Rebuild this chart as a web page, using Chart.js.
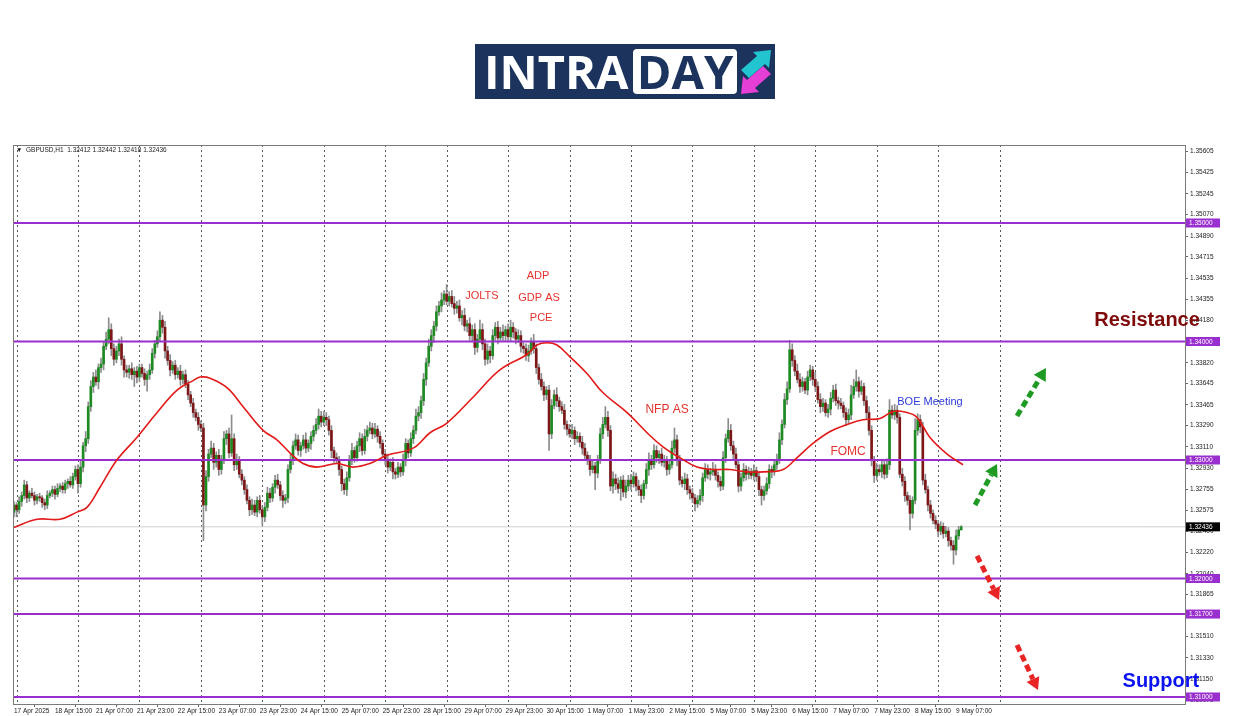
<!DOCTYPE html>
<html>
<head>
<meta charset="utf-8">
<script src="https://cdn.jsdelivr.net/npm/chart.js@4.4.1/dist/chart.umd.min.js"></script>
<style>
  html, body { margin: 0; padding: 0; background: #fff; }
  #wrap { position: relative; width: 1250px; height: 716px; overflow: hidden; }
  #chart { position: absolute; left: 0; top: 0; }
  #logo { position: absolute; left: 475px; top: 44px; width: 300px; height: 55px; background: #1c335e; }
  #logo .intra { position: absolute; left: 9px; top: 0px; font: 700 47px "Open Sans", sans-serif; color: #fff; line-height: 55px; letter-spacing: 0px; }
  #logo .day { position: absolute; left: 158px; top: 5px; width: 104px; height: 45px; background: #fff; border-radius: 4px;
               font: 700 47px "Open Sans", sans-serif; color: #1c335e; line-height: 45px; text-align: center; }
  #logo svg { position: absolute; left: 264px; top: 4px; }
</style>
</head>
<body>
<div id="wrap">
  <canvas id="chart" width="1250" height="716"></canvas>
  <div id="logo">
    <span class="intra">INTRA</span>
    <span class="day">DAY</span>
    <svg width="34" height="48" viewBox="0 0 34 48">
      <polygon points="2,22 18,8 14,4 32,2 30,20 26,16 10,30" fill="#22c4cf"/>
      <polygon points="32,26 16,40 20,44 2,46 4,28 8,32 24,18" fill="#e53fd6"/>
    </svg>
  </div>
</div>
<script>
// GBPUSD H1 closes, 17 Apr 23:00 .. 9 May 09:00
const firstOpen = 1.3256;
const closes = [
  1.3262, 1.3258, 1.3265, 1.3270, 1.3279, 1.3268, 1.3272, 1.3270, 1.3266, 1.3269,
  1.3268, 1.3264, 1.3262, 1.3270, 1.3272, 1.3275, 1.3271, 1.3276, 1.3278, 1.3275,
  1.3280, 1.3282, 1.3279, 1.3286, 1.3292, 1.3280, 1.3294, 1.3312, 1.3318, 1.3345,
  1.3362, 1.3370, 1.3366, 1.3378, 1.3381, 1.3396, 1.3402, 1.3410, 1.3394, 1.3385,
  1.3392, 1.3398, 1.3385, 1.3376, 1.3374, 1.3377, 1.3372, 1.3375, 1.3370, 1.3378,
  1.3373, 1.3368, 1.3372, 1.3376, 1.3390, 1.3398, 1.3404, 1.3418, 1.3412, 1.3392,
  1.3384, 1.3376, 1.3380, 1.3372, 1.3375, 1.3368, 1.3372, 1.3364, 1.3355, 1.3348,
  1.3340, 1.3336, 1.3330, 1.3327, 1.3262, 1.3286, 1.3305, 1.3310, 1.3298, 1.3304,
  1.3292, 1.3300, 1.3318, 1.3322, 1.3306, 1.3318, 1.3296, 1.3300, 1.3288, 1.3283,
  1.3275, 1.3266, 1.3258, 1.3262, 1.3256, 1.3266, 1.3258, 1.3252, 1.3260, 1.3272,
  1.3268, 1.3277, 1.3283, 1.3279, 1.3270, 1.3266, 1.3268, 1.3292, 1.3300, 1.3312,
  1.3317, 1.3308, 1.3312, 1.3317, 1.3310, 1.3314, 1.3320, 1.3325, 1.3330, 1.3337,
  1.3332, 1.3336, 1.3334, 1.3325, 1.3308, 1.3302, 1.3300, 1.3292, 1.3280, 1.3275,
  1.3285, 1.3300, 1.3308, 1.3302, 1.3312, 1.3318, 1.3308, 1.3320, 1.3325, 1.3327,
  1.3322, 1.3326, 1.3320, 1.3314, 1.3305, 1.3300, 1.3294, 1.3298, 1.3290, 1.3288,
  1.3294, 1.3290, 1.3300, 1.3314, 1.3306, 1.3318, 1.3325, 1.3337, 1.3340, 1.3350,
  1.3368, 1.3382, 1.3396, 1.3405, 1.3413, 1.3425, 1.3430, 1.3435, 1.3440, 1.3434,
  1.3438, 1.3432, 1.3428, 1.3430, 1.3420, 1.3422, 1.3413, 1.3415, 1.3405, 1.3410,
  1.3395, 1.3402, 1.3410, 1.3398, 1.3385, 1.3392, 1.3388, 1.3405, 1.3412, 1.3403,
  1.3408, 1.3405, 1.3410, 1.3404, 1.3412, 1.3408, 1.3402, 1.3405, 1.3396, 1.3394,
  1.3388, 1.3392, 1.3400, 1.3394, 1.3378, 1.3368, 1.3362, 1.3355, 1.3359, 1.3322,
  1.3346, 1.3355, 1.3350, 1.3345, 1.3342, 1.3330, 1.3326, 1.3322, 1.3325, 1.3318,
  1.3320, 1.3315, 1.3310, 1.3304, 1.3300, 1.3292, 1.3295, 1.3289, 1.3300, 1.3322,
  1.3330, 1.3336, 1.3325, 1.3278, 1.3284, 1.3280, 1.3276, 1.3283, 1.3273, 1.3278,
  1.3283, 1.3280, 1.3286, 1.3278, 1.3275, 1.3270, 1.3280, 1.3292, 1.3300, 1.3296,
  1.3308, 1.3302, 1.3305, 1.3298, 1.3300, 1.3292, 1.3296, 1.3310, 1.3317, 1.3300,
  1.3283, 1.3280, 1.3284, 1.3275, 1.3272, 1.3268, 1.3263, 1.3266, 1.3270, 1.3285,
  1.3292, 1.3288, 1.3290, 1.3292, 1.3287, 1.3282, 1.3278, 1.3302, 1.3318, 1.3325,
  1.3312, 1.3305, 1.3296, 1.3278, 1.3285, 1.3292, 1.3288, 1.3290, 1.3287, 1.3291,
  1.3286, 1.3275, 1.3270, 1.3274, 1.3280, 1.3292, 1.3290, 1.3296, 1.3300, 1.3317,
  1.3330, 1.3351, 1.3360, 1.3393, 1.3384, 1.3375, 1.3368, 1.3362, 1.3366, 1.3359,
  1.3370, 1.3376, 1.3368, 1.3362, 1.3351, 1.3345, 1.3348, 1.3340, 1.3343, 1.3352,
  1.3359, 1.3350, 1.3348, 1.3346, 1.3340, 1.3334, 1.3338, 1.3355, 1.3362, 1.3366,
  1.3358, 1.3362, 1.3350, 1.3340, 1.3325, 1.3300, 1.3287, 1.3292, 1.3290, 1.3296,
  1.3288, 1.3296, 1.3342, 1.3338, 1.3342, 1.3336, 1.3288, 1.3282, 1.3270, 1.3266,
  1.3255, 1.3266, 1.3325, 1.3334, 1.3328, 1.3283, 1.3275, 1.3262, 1.3255, 1.3249,
  1.3246, 1.3240, 1.3244, 1.3238, 1.3240, 1.3232, 1.3228, 1.3224, 1.3236, 1.3241,
  1.32436
];
// wick lengths above / below the body, in pips
const upWick = [
  3,2,4,3,4,3,2,4,3,2, 3,2,3,4,2,3,3,4,2,3, 3,2,4,3,3,4,5,3,6,4, 5,4,6,3,5,4,6,10,5,4,
  4,4,6,3,4,3,5,3,4,3, 3,4,3,5,4,3,5,7,4,5, 4,5,3,4,3,5,3,4,3,3, 4,3,4,3,4,5,4,6,4,3,
  5,4,6,3,5,20,4,5,3,4, 3,4,3,5,4,3,4,3,4,5, 4,3,4,5,3,4,3,4,5,4, 5,4,3,4,6,3,4,4,5,6,
  4,5,4,3,4,3,4,3,3,4, 5,4,6,3,4,5,4,6,4,5, 4,5,3,4,3,4,5,3,4,3, 4,3,5,4,3,5,4,6,5,4,
  5,4,6,5,4,5,4,6,3,8, 4,5,6,4,5,4,6,3,5,4, 5,4,8,5,4,6,4,5,4,5, 4,6,3,5,6,4,3,5,4,3,
  4,5,3,6,4,3,5,4,3,4, 5,4,6,3,4,5,3,4,5,3, 4,3,5,4,3,4,5,3,4,5, 6,9,5,4,6,4,5,3,4,5,
  4,5,4,3,5,4,3,5,6,4, 5,4,3,5,4,3,4,6,10,4, 4,3,5,4,3,4,3,4,5,4, 5,4,3,6,4,3,4,5,4,10,
  5,4,5,3,4,5,3,4,3,5, 3,4,3,4,5,4,3,4,5,6, 4,5,6,8,5,4,6,5,4,3, 5,4,3,6,4,5,4,3,4,5,
  4,5,3,4,3,4,5,8,6,10, 4,5,3,4,5,4,3,5,4,3, 4,5,9,4,5,4,3,5,4,3, 4,3,10,5,4,4,5,3,4,3,
  4,3,4,3,4,3,3,4,5,3, 1
];
const downWick = [
  4,6,3,4,3,4,3,2,4,3, 3,4,4,3,2,3,4,2,3,3, 3,4,2,3,3,8,3,4,5,4, 4,5,3,6,4,5,3,4,6,5,
  3,4,5,6,4,5,4,10,5,4, 3,5,10,4,3,4,3,4,5,6, 4,5,3,4,3,5,4,3,4,3, 4,3,5,3,30,5,4,3,6,4,
  5,4,3,5,4,3,5,4,3,4, 4,3,5,4,3,4,3,7,4,3, 4,3,5,3,4,6,3,4,3,4, 3,4,5,3,4,3,5,4,3,4,
  4,3,5,4,6,4,3,5,6,4, 5,3,4,4,3,5,4,3,4,3, 4,3,5,4,3,4,5,3,6,4, 3,4,3,5,4,3,4,3,4,5,
  4,5,3,4,6,4,3,5,4,3, 4,3,5,4,3,6,4,5,4,5, 6,4,3,5,5,4,6,3,4,5, 3,4,5,3,4,5,4,3,5,4,
  4,5,3,4,5,4,3,5,4,14, 4,3,5,4,3,4,5,3,4,5, 3,4,5,3,4,5,3,14,4,3, 4,3,5,4,6,5,4,10,4,5,
  4,5,3,4,5,6,3,4,5,4, 3,4,5,3,4,5,4,3,4,5, 4,3,5,4,5,4,6,3,4,5, 3,4,5,3,4,5,4,3,4,3,
  4,5,3,5,4,3,5,4,3,4, 4,5,8,4,3,4,5,3,4,3, 4,3,4,3,5,4,3,5,4,3, 4,3,5,4,3,5,4,3,4,5,
  3,4,5,3,4,5,3,4,3,4, 5,3,4,5,4,5,6,4,3,5, 4,3,4,3,4,5,3,4,5,4, 14,4,3,4,5,4,3,5,4,3,
  4,5,3,4,3,5,4,12,4,3, 0
];

// red moving average, sampled along the line (bar index, price)
const maBars   = [0, 9, 18, 24.6, 28.5, 33.6, 40.2, 48, 55.9, 63.7, 70, 72.7, 76.6, 83.2, 89.5, 97.3, 102.7, 107.8, 112.9, 118.4,
                  126.2, 132.4, 139, 145.7, 155.9, 162.5, 169, 179.3, 189.8, 200.4, 204.3, 208.2, 212.1, 217.2, 223.8, 230, 239.5,
                  247.3, 253.5, 260, 266.8, 273, 279.7, 286.3, 292.6, 300.4, 305.9, 312.1, 318.8, 325.4, 331.6, 338.3, 343.4, 348.8,
                  352.7, 357.8, 364.5, 370.7];
const maValues = [1.3243, 1.3250, 1.3250, 1.3256, 1.3260, 1.3277, 1.3300, 1.3319, 1.3340, 1.3359, 1.3367, 1.3370, 1.3369, 1.3361, 1.3345, 1.3325, 1.3317, 1.3306, 1.3297, 1.3294,
                  1.3297, 1.3294, 1.3297, 1.3304, 1.3310, 1.3323, 1.3331, 1.3353, 1.3376, 1.3389, 1.3397, 1.3399, 1.3397, 1.3387, 1.3373, 1.3357, 1.3340,
                  1.3323, 1.3311, 1.3302, 1.3294, 1.3292, 1.3292, 1.3290, 1.3290, 1.3292, 1.3302, 1.3314, 1.3324, 1.3330, 1.3334, 1.3335, 1.3341, 1.3340,
                  1.3336, 1.3319, 1.3305, 1.3296];

const levels = [1.35, 1.34, 1.33, 1.32, 1.317, 1.31];
const lastPrice = 1.32436;
const yTicks = [1.35605, 1.35425, 1.35245, 1.35070, 1.34890, 1.34715, 1.34535, 1.34355, 1.34180, 1.33820, 1.33645, 1.33465,
                1.33290, 1.33110, 1.32930, 1.32755, 1.32575, 1.32400, 1.32220, 1.32040, 1.31865, 1.31510, 1.31330, 1.31150, 1.30975];
const dateTicks = ['17 Apr 2025', '18 Apr 15:00', '21 Apr 07:00', '21 Apr 23:00', '22 Apr 15:00', '23 Apr 07:00', '23 Apr 23:00',
                   '24 Apr 15:00', '25 Apr 07:00', '25 Apr 23:00', '28 Apr 15:00', '29 Apr 07:00', '29 Apr 23:00', '30 Apr 15:00',
                   '1 May 07:00', '1 May 23:00', '2 May 15:00', '5 May 07:00', '5 May 23:00', '6 May 15:00', '7 May 07:00',
                   '7 May 23:00', '8 May 15:00', '9 May 07:00'];
const dateStep = 16;      // bars between date labels
const dayBars = [1, 25, 49, 73, 97, 121, 145, 169, 193, 217, 241, 265, 289, 313, 337, 361, 385]; // period separators

const notes = [
  { text: 'JOLTS', x: 182.8, y: 1.34384, color: '#e5332e', size: 11 },
  { text: 'ADP', x: 204.7, y: 1.34553, color: '#e5332e', size: 11 },
  { text: 'GDP AS', x: 205.1, y: 1.34367, color: '#e5332e', size: 11 },
  { text: 'PCE', x: 205.9, y: 1.34198, color: '#e5332e', size: 11 },
  { text: 'NFP AS', x: 255.1, y: 1.33422, color: '#e5332e', size: 12 },
  { text: 'FOMC', x: 325.8, y: 1.33068, color: '#e5332e', size: 12 },
  { text: 'BOE Meeting', x: 357.8, y: 1.33489, color: '#2b3ad8', size: 11 },
  { text: 'Resistance', x: 442.6, y: 1.34181, color: '#7f0a0a', size: 20, bold: true },
  { text: 'Support', x: 448.0, y: 1.31127, color: '#0a12f0', size: 20, bold: true }
];
const arrows = [
  { x1: 375.4, y1: 1.32620, x2: 384.0, y2: 1.32966, color: '#1f9a22' },
  { x1: 391.8, y1: 1.33371, x2: 403.1, y2: 1.33776, color: '#1f9a22' },
  { x1: 376.2, y1: 1.32190, x2: 384.8, y2: 1.31819, color: '#e82424' },
  { x1: 391.8, y1: 1.31439, x2: 400.0, y2: 1.31059, color: '#e82424' }
];

const opens = closes.map((c, i) => i === 0 ? firstOpen : closes[i - 1]);
const bodies = closes.map((c, i) => ({ x: i, y: [opens[i], c] }));
const wicks = closes.map((c, i) => ({
  x: i,
  y: [Math.min(opens[i], c) - downWick[i] * 0.0001, Math.max(opens[i], c) + upWick[i] * 0.0001]
}));
const isUp = i => closes[i] >= opens[i];

const xMin = -0.39, xMax = 457.42;
const levelSets = levels.map(v => ({
  type: 'line', data: [{ x: xMin, y: v }, { x: xMax, y: v }],
  borderColor: '#9a2fd0', borderWidth: 2, pointRadius: 0, order: 1
}));
const axisFont = '6.5px "Liberation Sans", Arial, sans-serif';

const mt4Plugin = {
  id: 'mt4',
  beforeDatasetsDraw(chart) {
    const { ctx, chartArea: a, scales: { x } } = chart;
    ctx.save();
    ctx.strokeStyle = '#5a5a5a';
    ctx.lineWidth = 1;
    ctx.setLineDash([2, 3]);
    dayBars.forEach(b => {
      const px = Math.round(x.getPixelForValue(b)) + 0.5;
      ctx.beginPath();
      ctx.moveTo(px, a.top);
      ctx.lineTo(px, a.bottom);
      ctx.stroke();
    });
    ctx.restore();
  },
  afterDraw(chart) {
    const { ctx, chartArea: a, scales: { x, y } } = chart;
    ctx.save();
    // frame
    ctx.strokeStyle = '#7a7a7a';
    ctx.lineWidth = 1;
    ctx.strokeRect(a.left + 0.5, a.top + 0.5, a.right - a.left, a.bottom - a.top);
    // header
    ctx.fillStyle = '#222';
    ctx.font = axisFont;
    ctx.textBaseline = 'middle';
    ctx.textAlign = 'left';
    ctx.fillText('\u25BC  GBPUSD,H1  1.32412 1.32442 1.32418 1.32436', a.left + 3, a.top + 5);
    // price boxes on the axis
    const box = (v, bg) => {
      const py = y.getPixelForValue(v);
      ctx.fillStyle = bg;
      ctx.fillRect(a.right + 1, py - 4.5, 34, 9);
      ctx.fillStyle = '#fff';
      ctx.font = axisFont;
      ctx.fillText(v.toFixed(5), a.right + 4, py + 0.5);
    };
    levels.forEach(v => box(v, '#9a2fd0'));
    box(lastPrice, '#000');
    // annotations
    notes.forEach(n => {
      ctx.fillStyle = n.color;
      ctx.font = (n.bold ? 'bold ' : '') + n.size + 'px "Liberation Sans", Arial, sans-serif';
      ctx.textAlign = 'center';
      ctx.fillText(n.text, x.getPixelForValue(n.x), y.getPixelForValue(n.y));
    });
    // dashed arrows
    arrows.forEach(r => {
      const x1 = x.getPixelForValue(r.x1), y1 = y.getPixelForValue(r.y1);
      const x2 = x.getPixelForValue(r.x2), y2 = y.getPixelForValue(r.y2);
      const ang = Math.atan2(y2 - y1, x2 - x1);
      const head = 12;
      const bx = x2 - Math.cos(ang) * head, by = y2 - Math.sin(ang) * head;
      ctx.strokeStyle = r.color;
      ctx.lineWidth = 5;
      ctx.setLineDash([7, 4]);
      ctx.beginPath();
      ctx.moveTo(x1, y1);
      ctx.lineTo(bx, by);
      ctx.stroke();
      ctx.setLineDash([]);
      ctx.fillStyle = r.color;
      ctx.beginPath();
      ctx.moveTo(x2, y2);
      ctx.lineTo(bx + Math.cos(ang + Math.PI / 2) * 7, by + Math.sin(ang + Math.PI / 2) * 7);
      ctx.lineTo(bx + Math.cos(ang - Math.PI / 2) * 7, by + Math.sin(ang - Math.PI / 2) * 7);
      ctx.closePath();
      ctx.fill();
    });
    ctx.restore();
  }
};

new Chart(document.getElementById('chart'), {
  type: 'bar',
  data: {
    datasets: [
      {
        type: 'line', data: maBars.map((b, i) => ({ x: b, y: maValues[i] })),
        borderColor: '#e31a1a', borderWidth: 1.6, pointRadius: 0, tension: 0.4, order: 0
      },
      ...levelSets,
      {
        data: bodies, grouped: false, barThickness: 2, minBarLength: 1, order: 2,
        backgroundColor: ctx => isUp(ctx.dataIndex) ? '#1d8a22' : '#7d1616'
      },
      {
        data: wicks, grouped: false, barThickness: 1, order: 3,
        backgroundColor: '#8c8c8c'
      },
      {
        type: 'line', data: [{ x: xMin, y: lastPrice }, { x: xMax, y: lastPrice }],
        borderColor: '#cfcfcf', borderWidth: 1, pointRadius: 0, order: 4
      }
    ]
  },
  options: {
    responsive: false,
    animation: false,
    devicePixelRatio: 1,
    layout: { padding: { left: 13, top: 145, right: 0, bottom: 0 } },
    plugins: { legend: { display: false }, tooltip: { enabled: false } },
    scales: {
      x: {
        type: 'linear', min: xMin, max: xMax, offset: false,
        afterFit: s => { s.height = 12; },
        afterBuildTicks: s => { s.ticks = dateTicks.map((t, i) => ({ value: i * dateStep })); },
        grid: { drawOnChartArea: false, tickLength: 3, color: '#666' },
        border: { display: false },
        ticks: {
          autoSkip: false, maxRotation: 0, align: 'start', padding: 0,
          color: '#222', font: { size: 6.5, family: '"Liberation Sans", Arial, sans-serif' },
          callback: v => dateTicks[Math.round(v / dateStep)]
        }
      },
      y: {
        position: 'right', min: 1.309409, max: 1.356582,
        afterFit: s => { s.width = 65; },
        afterBuildTicks: s => { s.ticks = yTicks.map(v => ({ value: v })); },
        grid: { drawOnChartArea: false, tickLength: 3, color: '#666' },
        border: { display: true, color: '#7a7a7a' },
        ticks: {
          padding: 2, color: '#222', font: { size: 6.5, family: '"Liberation Sans", Arial, sans-serif' },
          callback: v => v.toFixed(5)
        }
      }
    }
  },
  plugins: [mt4Plugin]
});
</script>
</body>
</html>
